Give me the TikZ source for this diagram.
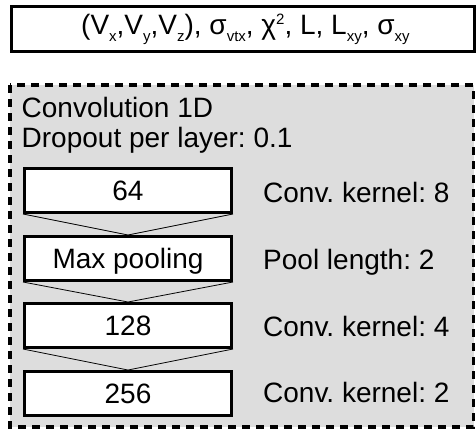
\documentclass[tikz,border=0pt]{standalone}
\usepackage{fontspec}
\setmainfont{Liberation Sans}
\newcommand\mysb[1]{\raisebox{-7pt}{\fontsize{15}{16}\selectfont #1}}
\newcommand\mysp[1]{\raisebox{10pt}{\fontsize{15}{16}\selectfont #1}}
\begin{document}
\frenchspacing
\begin{tikzpicture}[x=1pt,y=-1pt,
  lbl/.style={inner sep=0pt,anchor=base west,font=\fontsize{28}{30}\selectfont},
  layer/.style={draw,line width=3pt,fill=white,minimum width=207pt,minimum height=44pt,
    inner sep=0pt,text height=20pt,text depth=0pt,font=\fontsize{28}{30}\selectfont},
  conn/.style={line width=0.8pt}]
\useasboundingbox (0,0) rectangle (476,429);
% top box
\node[draw,line width=3pt,minimum width=463pt,minimum height=45pt,inner sep=0pt] (topbox) at (243,29) {};
\node[inner sep=0pt,anchor=base west,font=\fontsize{28}{30}\selectfont] (toptext) at (81,34)
  {(V\mysb{x},V\mysb{y},V\mysb{z}), σ\mysb{vtx}, χ\mysp{2}, L, L\mysb{xy}, σ\mysb{xy}};
% dashed background
\draw[fill={rgb,255:red,221;green,221;blue,221},line width=3.5pt,dash pattern=on 8pt off 6pt]
  (10,85) rectangle (473.5,427);
\node[lbl] (t1) at (21.5,117) {Convolution 1D};
\node[lbl] (t2) at (21.5,147) {Dropout per layer: 0.1};
% layers
\node[layer] (l1) at (128,190.5) {64};
\node[layer] (l2) at (128,258.5) {Max pooling};
\node[layer] (l3) at (128,325.5) {128};
\node[layer] (l4) at (128,393.5) {256};
\draw[conn] (l1.south west) -- (l2.north) -- (l1.south east);
\draw[conn] (l2.south west) -- (l3.north) -- (l2.south east);
\draw[conn] (l3.south west) -- (l4.north) -- (l3.south east);
\node[lbl] (k1) at (263,202) {Conv. kernel: 8};
\node[lbl] (k2) at (263,269.5) {Pool length: 2};
\node[lbl] (k3) at (263,336) {Conv. kernel: 4};
\node[lbl] (k4) at (263,402.5) {Conv. kernel: 2};
\end{tikzpicture}
\end{document}
